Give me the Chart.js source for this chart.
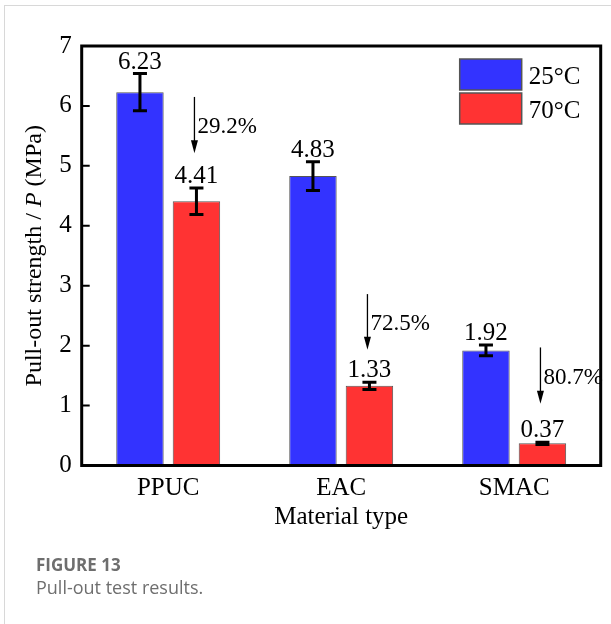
<!DOCTYPE html>
<html lang="en">

<head>
    <meta charset="UTF-8">
    <title>Pull-out test results</title>
    <script src="https://cdn.jsdelivr.net/npm/chart.js"></script>
    <style>
        body {
            margin: 0;
            background: #fff;
        }

        .frame {
            position: absolute;
            left: 4px;
            top: 5px;
            width: 620px;
            height: 640px;
            border-left: 1px solid #d8d8d8;
            border-top: 1px solid #d8d8d8;
        }

        #grafico {
            position: absolute;
            left: 0;
            top: 0;
        }

        .caption {
            position: absolute;
            left: 36px;
            top: 554px;
            font-family: "Open Sans", "Noto Sans", sans-serif;
            color: #6e6e6e;
        }

        .caption b {
            display: block;
            font-size: 17px;
            font-weight: 700;
            line-height: 22px;
        }

        .caption span {
            display: block;
            font-size: 18px;
            line-height: 22px;
        }
    </style>
</head>

<body>
    <div class="frame"></div>
    <canvas id="grafico" width="611" height="624"></canvas>
    <div class="caption">
        <b>FIGURE 13</b>
        <span>Pull-out test results.</span>
    </div>
    <script>
        // datos
        const materiales = ['PPUC', 'EAC', 'SMAC'];
        const etiquetas = ['25°C', '70°C'];
        const valores25 = [6.23, 4.83, 1.92];
        const valores70 = [4.41, 1.33, 0.37];
        const error25 = [0.31, 0.24, 0.09];
        const error70 = [0.22, 0.06, 0.02];
        const reduccion = ['29.2%', '72.5%', '80.7%'];
        const flechaDesde = [6.15, 2.86, 1.97];
        const flechaHasta = [5.21, 1.93, 1.03];
        const ticksY = [0, 1, 2, 3, 4, 5, 6, 7];

        const serif = '"Liberation Serif", "Times New Roman", serif';
        const errores = [error25, error70];

        const extras = {
            id: 'extras',
            afterDatasetsDraw(chart) {
                const ctx = chart.ctx;
                const area = chart.chartArea;
                const y = chart.scales.y;
                ctx.save();

                // barras de error y valores
                chart.data.datasets.forEach((ds, i) => {
                    chart.getDatasetMeta(i).data.forEach((bar, j) => {
                        const v = ds.data[j];
                        const e = errores[i][j];
                        const yTop = y.getPixelForValue(v + e);
                        const yBot = y.getPixelForValue(v - e);
                        ctx.strokeStyle = '#000';
                        ctx.lineWidth = 3;
                        ctx.beginPath();
                        ctx.moveTo(bar.x, yTop);
                        ctx.lineTo(bar.x, yBot);
                        ctx.moveTo(bar.x - 7, yTop);
                        ctx.lineTo(bar.x + 7, yTop);
                        ctx.moveTo(bar.x - 7, yBot);
                        ctx.lineTo(bar.x + 7, yBot);
                        ctx.stroke();

                        ctx.fillStyle = '#000';
                        ctx.font = 'normal 25px ' + serif;
                        ctx.textAlign = 'center';
                        ctx.textBaseline = 'alphabetic';
                        ctx.fillText(v.toFixed(2), bar.x, yTop - 5);
                    });
                });

                // flechas de reduccion
                const rojas = chart.getDatasetMeta(1).data;
                rojas.forEach((bar, j) => {
                    const x = bar.x - 2;
                    const y0 = y.getPixelForValue(flechaDesde[j]);
                    const y1 = y.getPixelForValue(flechaHasta[j]);
                    ctx.strokeStyle = '#000';
                    ctx.fillStyle = '#000';
                    ctx.lineWidth = 1.3;
                    ctx.beginPath();
                    ctx.moveTo(x, y0);
                    ctx.lineTo(x, y1 - 10);
                    ctx.stroke();
                    ctx.beginPath();
                    ctx.moveTo(x - 3.5, y1 - 13);
                    ctx.lineTo(x + 3.5, y1 - 13);
                    ctx.lineTo(x, y1);
                    ctx.closePath();
                    ctx.fill();

                    ctx.font = 'normal 23px ' + serif;
                    ctx.textAlign = 'left';
                    ctx.textBaseline = 'alphabetic';
                    ctx.fillText(reduccion[j], x + 3, (y0 + y1) / 2 + 8);
                });

                // marco
                ctx.strokeStyle = '#000';
                ctx.lineWidth = 3;
                ctx.strokeRect(area.left, area.top, area.right - area.left, area.bottom - area.top);

                // ticks hacia adentro
                ctx.lineWidth = 2;
                ctx.beginPath();
                ticksY.forEach(t => {
                    const py = y.getPixelForValue(t);
                    ctx.moveTo(area.left, py);
                    ctx.lineTo(area.left + 8, py);
                });
                ctx.stroke();

                // leyenda
                chart.data.datasets.forEach((ds, i) => {
                    const bx = area.right - 141;
                    const by = area.top + 13 + i * 34;
                    ctx.fillStyle = ds.backgroundColor;
                    ctx.fillRect(bx, by, 62, 31);
                    ctx.strokeStyle = '#555';
                    ctx.lineWidth = 1.5;
                    ctx.strokeRect(bx, by, 62, 31);
                    ctx.fillStyle = '#000';
                    ctx.font = 'normal 25px ' + serif;
                    ctx.textAlign = 'left';
                    ctx.textBaseline = 'alphabetic';
                    ctx.fillText(ds.label, bx + 69, by + 25);
                });

                // titulos de ejes
                ctx.fillStyle = '#000';
                ctx.font = 'normal 25px ' + serif;
                ctx.textAlign = 'center';
                ctx.textBaseline = 'alphabetic';
                ctx.fillText('Material type', (area.left + area.right) / 2, 524);

                const partes = [
                    ['Pull-out strength / ', 'normal'],
                    ['P', 'italic'],
                    [' (MPa)', 'normal']
                ];
                let total = 0;
                partes.forEach(p => {
                    ctx.font = p[1] + ' 24px ' + serif;
                    total += ctx.measureText(p[0]).width;
                });
                ctx.translate(41, (area.top + area.bottom) / 2);
                ctx.rotate(-Math.PI / 2);
                ctx.textAlign = 'left';
                let px = -total / 2;
                partes.forEach(p => {
                    ctx.font = p[1] + ' 24px ' + serif;
                    ctx.fillText(p[0], px, 0);
                    px += ctx.measureText(p[0]).width;
                });

                ctx.restore();
            }
        };

        const ctx = document.getElementById('grafico').getContext('2d');
        new Chart(ctx, {
            type: 'bar',
            data: {
                labels: materiales,
                datasets: [
                    {
                        label: etiquetas[0],
                        data: valores25,
                        backgroundColor: '#3333ff',
                        borderColor: '#555',
                        borderWidth: 1
                    },
                    {
                        label: etiquetas[1],
                        data: valores70,
                        backgroundColor: '#ff3333',
                        borderColor: '#555',
                        borderWidth: 1
                    }
                ]
            },
            options: {
                responsive: false,
                animation: false,
                devicePixelRatio: 1,
                categoryPercentage: 0.653,
                barPercentage: 0.84,
                layout: {
                    padding: { left: 0, top: 46, right: 10.3, bottom: 0 }
                },
                plugins: {
                    legend: { display: false },
                    tooltip: { enabled: false }
                },
                scales: {
                    x: {
                        grid: { display: false, drawTicks: false },
                        border: { display: false },
                        ticks: {
                            color: '#000',
                            padding: 8,
                            font: { family: serif, size: 25 }
                        },
                        afterFit: s => { s.height = 158.5; }
                    },
                    y: {
                        min: 0,
                        max: 7,
                        grid: { display: false, drawTicks: false },
                        border: { display: false },
                        ticks: {
                            stepSize: 1,
                            color: '#000',
                            padding: 10,
                            font: { family: serif, size: 25 }
                        },
                        afterFit: s => { s.width = 81.7; }
                    }
                }
            },
            plugins: [extras]
        });
    </script>
</body>

</html>
